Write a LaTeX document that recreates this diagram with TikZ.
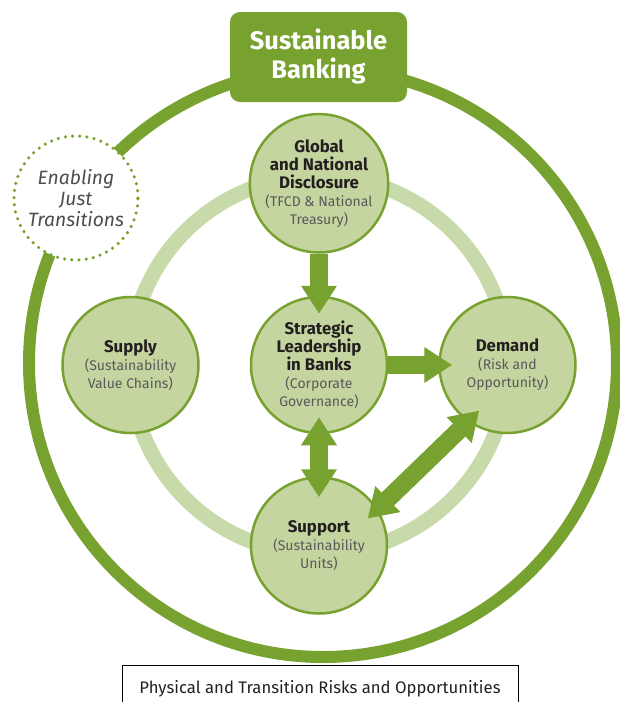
\documentclass[tikz,border=0pt]{standalone}
\usepackage{fontspec}
\setmainfont{Fira Sans}
\usepackage{tikz}
\usetikzlibrary{arrows.meta,positioning}
\definecolor{leafgreen}{HTML}{78A22F}
\definecolor{palegreen}{HTML}{C5D5A0}
\definecolor{ringgreen}{HTML}{C8D9AA}
\definecolor{titleblack}{HTML}{231F20}
\definecolor{subgray}{HTML}{595959}
\definecolor{textgray}{HTML}{4D4D4D}
\newcommand{\hubsub}[1]{\textcolor{subgray}{\fontsize{14}{18}\selectfont #1}}

\begin{document}
\begin{tikzpicture}[
  x=1pt,y=-1pt,
  node distance=42pt and 50pt,
  hub/.style={circle,draw=leafgreen,line width=2.5pt,fill=palegreen,
    minimum size=136pt,inner sep=0pt,align=center,
    text=titleblack,font=\fontsize{16.8}{18}\selectfont},
  ring/.style={line width=15pt,draw=ringgreen},
  outerring/.style={line width=12pt,draw=leafgreen},
  bankbox/.style={rectangle,rounded corners=10pt,fill=leafgreen,text=white,
    minimum width=177pt,minimum height=90pt,align=center,
    font=\bfseries\fontsize{25.4}{29}\selectfont},
  justcircle/.style={circle,draw=leafgreen,fill=white,line width=3.5pt,
    line cap=round,dash pattern=on 0pt off 7.2pt,minimum size=124pt,
    inner sep=0pt,align=center,text=textgray,
    font=\itshape\fontsize{19.3}{21}\selectfont},
  riskbox/.style={rectangle,draw=black,line width=0.8pt,minimum width=396pt,
    minimum height=46pt,anchor=north,text=titleblack,
    font=\fontsize{16.7}{18}\selectfont},
  bigarrow/.style={line width=18pt,draw=leafgreen},
  >={Triangle[length=28pt 0 0,width=34pt 0 0]}
]
\useasboundingbox (0,0) rectangle (620,702);
\clip (0,0) rectangle (620,702);
\coordinate (mid) at (319,365);
% rings
\draw[outerring] (323,363) circle[radius=294];
\draw[ring] (mid) circle[radius=189];
\node[justcircle] (just) at (76,198) {Enabling\\Just\\Transitions};
% hubs
\node[hub] (strat) at (mid) {\textbf{Strategic}\\\textbf{Leadership}\\
  \textbf{in Banks}\\\hubsub{(Corporate}\\\hubsub{Governance)}};
\node[hub,above=of strat] (global) {\textbf{Global}\\\textbf{and National}\\
  \textbf{Disclosure}\\\hubsub{(TFCD \& National}\\\hubsub{Treasury)}};
\node[hub,left=of strat] (supply) {\textbf{Supply}\\
  \hubsub{(Sustainability}\\\hubsub{Value Chains)}};
\node[hub,right=of strat] (demand) {\textbf{Demand}\\
  \hubsub{(Risk and}\\\hubsub{Opportunity)}};
\node[hub,below=of strat] (support) {\textbf{Support}\\
  \hubsub{(Sustainability}\\\hubsub{Units)}};
% arrows
\draw[bigarrow,->,shorten >=-18pt] (global) -- (strat);
\draw[bigarrow,->,shorten >=-14pt] (strat) -- (demand);
\draw[bigarrow,<->,shorten <=-17pt,shorten >=-21pt] (strat) -- (support);
\draw[bigarrow,<->,shorten <=-16pt,shorten >=-14pt] (demand.235) -- (support.32);
% boxes
\node[bankbox] (bank) at (318.5,57) {Sustainable\\Banking};
\node[riskbox] (risk) at (320,665) {Physical and Transition Risks and Opportunities};
\end{tikzpicture}
\end{document}
